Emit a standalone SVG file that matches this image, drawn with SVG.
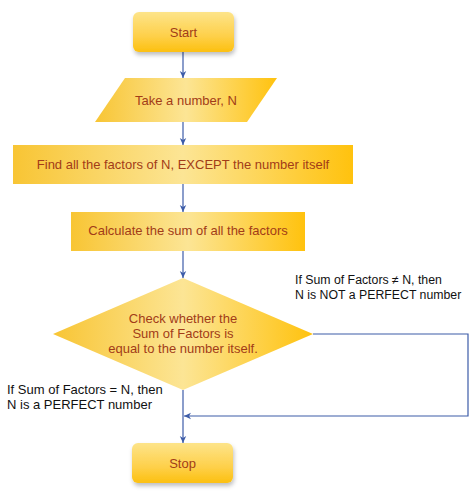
<svg xmlns="http://www.w3.org/2000/svg" width="474" height="496" viewBox="0 0 474 496">
<style>
.lbl{font-family:"Comic Sans MS","Liberation Sans",sans-serif;font-size:13px;fill:#a23c18;text-anchor:middle}
.note{font-family:"Comic Sans MS","Liberation Sans",sans-serif;font-size:13px;fill:#111}
.note.r{font-size:12.3px}
.con{stroke:#3d5ca8;stroke-width:1.2;fill:none}
</style>
<defs>
<linearGradient id="gh" x1="0" y1="0" x2="1" y2="0">
<stop offset="0" stop-color="#f8c534"/>
<stop offset="0.5" stop-color="#fce595"/>
<stop offset="1" stop-color="#ffc20e"/>
</linearGradient>
<linearGradient id="gv" x1="0" y1="0" x2="0" y2="1">
<stop offset="0" stop-color="#fde48a"/>
<stop offset="0.6" stop-color="#fed04a"/>
<stop offset="1" stop-color="#fcc010"/>
</linearGradient>
<filter id="sh" x="-20%" y="-20%" width="140%" height="150%">
<feDropShadow dx="1" dy="3" stdDeviation="2" flood-color="#000" flood-opacity="0.25"/>
</filter>
<marker id="ar" markerWidth="8" markerHeight="8" refX="7" refY="4" orient="auto" markerUnits="userSpaceOnUse">
<path d="M0,0.8 L7,4 L0,7.2 L2,4 Z" fill="#3d5ca8"/>
</marker>
</defs>
<g id="connectors">
<line class="con" x1="183" y1="52" x2="183" y2="78" marker-end="url(#ar)"/>
<line class="con" x1="183" y1="122" x2="183" y2="145" marker-end="url(#ar)"/>
<line class="con" x1="183" y1="184" x2="183" y2="212" marker-end="url(#ar)"/>
<line class="con" x1="183" y1="251" x2="183" y2="278" marker-end="url(#ar)"/>
<line class="con" x1="183" y1="390" x2="183" y2="443" marker-end="url(#ar)"/>
<polyline class="con" points="313,334 468,334 468,416 184,416" marker-end="url(#ar)"/>
</g>
<g id="start">
<rect x="133" y="12" width="101" height="40" rx="6" fill="url(#gv)" filter="url(#sh)"/>
<text class="lbl" x="183.5" y="37">Start</text>
</g>
<g id="input">
<polygon points="125,78 277,78 247,122 95,122" fill="url(#gh)"/>
<text class="lbl" x="186" y="105">Take a number, N</text>
</g>
<g id="factors">
<rect x="13" y="145" width="340" height="39" fill="url(#gh)"/>
<text class="lbl" x="183" y="169">Find all the factors of N, EXCEPT the number itself</text>
</g>
<g id="sum">
<rect x="71" y="212" width="234" height="39" fill="url(#gh)"/>
<text class="lbl" x="188" y="235">Calculate the sum of all the factors</text>
</g>
<g id="check">
<polygon points="183,278 313,334 183,390 53,334" fill="url(#gh)"/>
<text class="lbl" x="183" y="323">Check whether the</text>
<text class="lbl" x="183" y="338">Sum of Factors is</text>
<text class="lbl" x="183" y="353">equal to the number itself.</text>
</g>
<g id="stop">
<rect x="132" y="443" width="101" height="40" rx="6" fill="url(#gv)" filter="url(#sh)"/>
<text class="lbl" x="182.5" y="468">Stop</text>
</g>
<g id="labels">
<text class="note r" x="295" y="284">If Sum of Factors ≠ N, then</text>
<text class="note r" x="295" y="299">N is NOT a PERFECT number</text>
<text class="note" x="7" y="394">If Sum of Factors = N, then</text>
<text class="note" x="7" y="409">N is a PERFECT number</text>
</g>
</svg>
